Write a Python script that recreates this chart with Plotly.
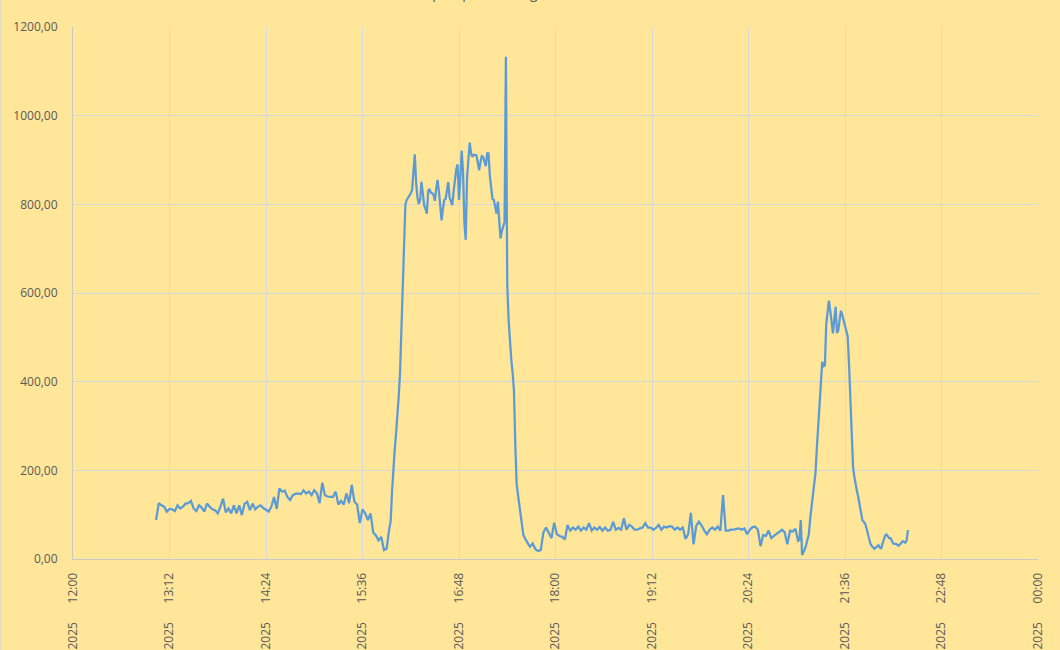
import plotly.graph_objects as go
from datetime import datetime, timedelta

# ---------------- data ----------------
BASE = datetime(2025, 6, 15, 12, 0)

# segment A: from 13:02, every 2 minutes
seg_a_start_min, seg_a_step_min = 62, 2
seg_a_values = [88, 126, 121, 118, 107, 113, 112, 108, 121, 114,
                118, 125, 126, 131, 114, 108, 121, 116, 107, 125,
                118, 112, 110, 103, 118, 136, 105, 114, 103, 121,
                103, 121, 99, 125, 129, 110, 125, 112, 118, 121,
                115, 110, 107, 118, 140, 113, 159, 152, 154, 140,
                133, 144, 147, 148, 146, 155, 148, 152, 144, 155,
                148, 126, 172, 144, 141, 140, 140, 152, 123, 131,
                123, 148, 126, 167, 129, 123, 81, 112, 103, 88,
                103, 60, 53, 42, 50, 20, 23, 69]

# segment B: from 15:57, every minute
seg_b_start_min, seg_b_step_min = 237, 1
seg_b_values = [85, 150, 210, 245, 282, 320, 365, 420, 510, 600,
                700, 800, 810, 815, 818, 825, 832, 870, 913, 850,
                815, 801, 810, 851, 830, 798, 790, 779, 830, 835,
                826, 825, 822, 808, 835, 855, 830, 790, 764, 790,
                810, 812, 835, 850, 815, 805, 798, 830, 862, 880,
                890, 810, 860, 921, 875, 760, 720, 860, 900, 939,
                915, 907, 912, 912, 911, 895, 877, 895, 909, 907,
                895, 886, 915, 915, 865, 830, 812, 810, 795, 779,
                806, 760, 723, 740, 752, 760, 1133, 620, 540, 480,
                450, 420, 380, 260, 170, 145, 120, 100, 70, 55,
                48, 42, 38, 32, 28]

# segment C: from 17:43, every 2 minutes
seg_c_start_min, seg_c_step_min = 343, 2
seg_c_values = [35, 22, 18, 20, 60, 71, 60, 47, 82, 56,
                52, 50, 44, 77, 64, 71, 66, 73, 64, 71,
                66, 81, 64, 71, 66, 72, 64, 71, 64, 66,
                84, 66, 70, 66, 92, 66, 77, 73, 66, 66,
                69, 71, 81, 71, 71, 66, 70, 77, 66, 73,
                71, 74, 73, 66, 71, 66, 71, 45, 56, 104,
                33, 75, 84, 76, 64, 56, 66, 71, 66, 73,
                64, 144, 64, 64, 66, 66, 68, 69, 66, 69,
                56, 66, 72, 73, 66, 29, 54, 52, 64, 47,
                52, 56, 60, 66, 60, 33, 64, 62, 68, 41]

# segment D: from 21:02, every minute
seg_d_start_min, seg_d_step_min = 542, 1
seg_d_values = [43, 88, 9, 15, 22, 32, 42, 55, 90, 118,
                138, 160, 195, 250, 300, 355, 405, 445, 435, 437,
                530, 560, 583, 560, 530, 509, 540, 569, 510, 515,
                540, 560, 550, 538, 522, 512, 502, 440, 370, 290,
                208, 185, 165, 152, 138, 120, 98, 87, 84, 80,
                70, 56, 45, 34, 29, 25, 23, 26, 28, 31,
                26, 23, 35, 47, 53, 55, 50, 47, 47, 41,
                35, 34, 34, 32, 30, 33, 36, 40, 39, 37,
                42, 65]

y_tick_values = [0, 200, 400, 600, 800, 1000, 1200]
y_tick_labels = ["0,00", "200,00", "400,00", "600,00", "800,00", "1000,00", "1200,00"]
x_tick_step_min = 72
x_tick_count = 11
title_text = "Wärmepumpe Leistung"

# ---------------- build series ----------------
segments = [
    (seg_a_start_min, seg_a_step_min, seg_a_values),
    (seg_b_start_min, seg_b_step_min, seg_b_values),
    (seg_c_start_min, seg_c_step_min, seg_c_values),
    (seg_d_start_min, seg_d_step_min, seg_d_values),
]
xs, ys = [], []
for start, step, vals in segments:
    for i, v in enumerate(vals):
        xs.append(BASE + timedelta(minutes=start + step * i))
        ys.append(v)

tick_dates = [BASE + timedelta(minutes=x_tick_step_min * i) for i in range(x_tick_count)]
tick_text = [d.strftime("%d.%m.%Y") + "\u00a0" * 6 + d.strftime("%H:%M") for d in tick_dates]

GRID = "#D9D9D9"
TXT = "#595959"
BG = "#FFE699"
FONT = "Open Sans"

fig = go.Figure()
fig.add_trace(go.Scatter(x=xs, y=ys, mode="lines",
                         line=dict(color="#5B9BD5", width=2.25),
                         hoverinfo="x+y", showlegend=False))

fig.update_layout(
    width=1060, height=650,
    margin=dict(l=73, r=22, t=27, b=91, pad=0),
    paper_bgcolor=BG, plot_bgcolor=BG,
    font=dict(family=FONT, size=12, color=TXT),
    xaxis=dict(
        type="date",
        range=[tick_dates[0], tick_dates[-1]],
        tickmode="array", tickvals=tick_dates, ticktext=tick_text,
        tickangle=-90, showgrid=True, gridcolor=GRID, gridwidth=1,
        showline=True, linecolor="#C9C9C9", linewidth=1,
        zeroline=False, ticks="", ticklabelstandoff=8,
        tickfont=dict(family=FONT, size=12, color=TXT),
        automargin=False, fixedrange=True,
    ),
    yaxis=dict(
        range=[0, 1200],
        tickmode="array", tickvals=y_tick_values, ticktext=y_tick_labels,
        showgrid=True, gridcolor=GRID, gridwidth=1,
        showline=True, linecolor="#C9C9C9", linewidth=1,
        zeroline=False, ticks="", ticklabelstandoff=12,
        tickfont=dict(family=FONT, size=12, color=TXT),
        automargin=False, fixedrange=True,
    ),
    shapes=[dict(type="line", xref="paper", yref="paper",
                 x0=-0.0746, x1=-0.0746, y0=-0.171, y1=1.0508,
                 line=dict(color=GRID, width=1.5))],
    annotations=[dict(text=title_text, xref="paper", yref="paper",
                      x=0.484, y=1.0432, xanchor="right", yanchor="bottom",
                      showarrow=False, font=dict(family=FONT, size=14, color=TXT))],
)

fig.write_html(
    "out.html",
    config={"displayModeBar": False},
    post_script="document.body.style.margin='0';document.body.style.overflow='hidden';document.body.style.background='" + BG + "';",
)
